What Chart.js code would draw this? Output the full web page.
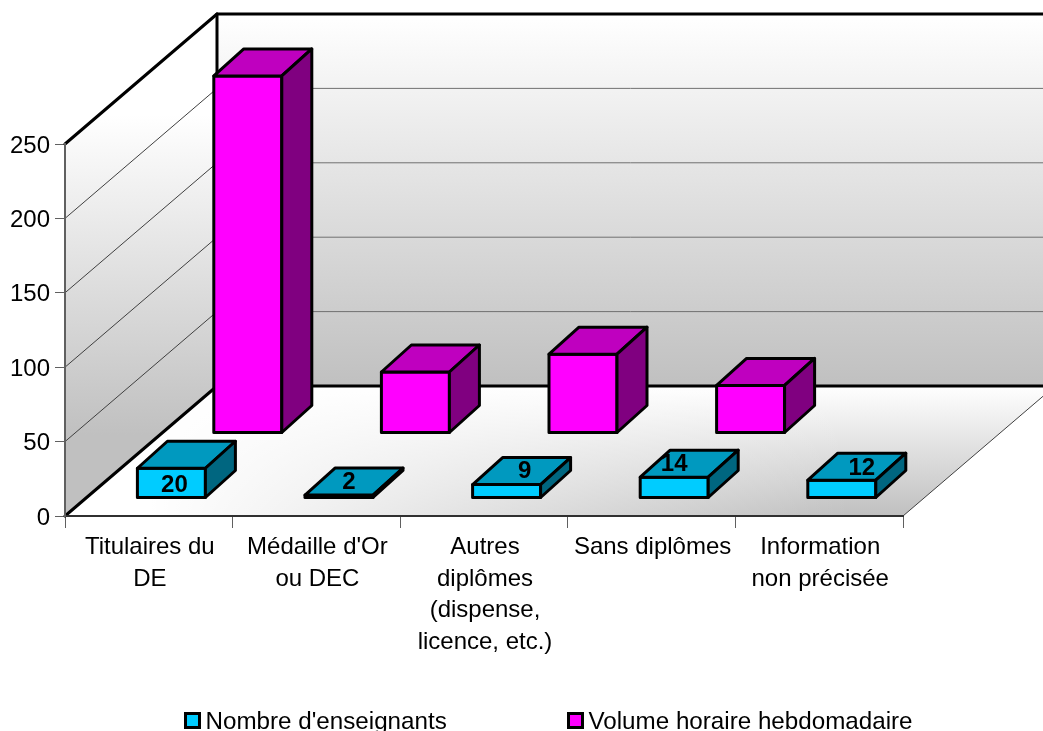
<!DOCTYPE html>
<html>
<head>
<meta charset="utf-8">
<style>
  html, body { margin: 0; padding: 0; background: #fff; overflow: hidden; }
  canvas { display: block; }
</style>
<script src="https://cdn.jsdelivr.net/npm/chart.js@4/dist/chart.umd.min.js"></script>
</head>
<body>
<canvas id="diagramme" width="1043" height="731"></canvas>
<script>
const categories = [
  ["Titulaires du", "DE"],
  ["Médaille d'Or", "ou DEC"],
  ["Autres", "diplômes", "(dispense,", "licence, etc.)"],
  "Sans diplômes",
  ["Information", "non précisée"]
];
const enseignants = [20, 2, 9, 14, 12];
const volumeHoraire = [240, 41, 53, 32, null];
const seriesNames = ["Nombre d'enseignants", "Volume horaire hebdomadaire"];

const FONT = "Liberation Sans, Arial, sans-serif";

// profondeur du plancher, et de chaque rangee de barres
const depth = { x: 152, y: -130 };
const rows = [
  { dx: 22.6, dy: -18, top: "#0099bf", side: "#006680" },
  { dx: 99, dy: -83, top: "#bf00bf", side: "#800080" }
];
const barDepth = { x: 30, y: -27 };
// decalage des etiquettes de valeur par rapport au centre de la barre
const labelNudge = [[3, 17], [10, -13], [18, -13], [0, -13], [20, -12]];

function poly(ctx, pts, fill, stroke, width) {
  ctx.beginPath();
  pts.forEach((p, i) => i ? ctx.lineTo(p[0], p[1]) : ctx.moveTo(p[0], p[1]));
  ctx.closePath();
  if (fill) { ctx.fillStyle = fill; ctx.fill(); }
  if (stroke) { ctx.strokeStyle = stroke; ctx.lineWidth = width; ctx.stroke(); }
}

function line(ctx, x1, y1, x2, y2, color, width) {
  ctx.beginPath();
  ctx.moveTo(x1, y1);
  ctx.lineTo(x2, y2);
  ctx.strokeStyle = color;
  ctx.lineWidth = width;
  ctx.stroke();
}

// murs, plancher et grille
const walls = {
  id: "walls",
  beforeDatasetsDraw(chart) {
    const ctx = chart.ctx, a = chart.chartArea, y = chart.scales.y;
    const dx = depth.x, dy = depth.y;
    ctx.save();

    const wallGrad = ctx.createLinearGradient(0, a.top + dy, 0, a.bottom + dy);
    wallGrad.addColorStop(0, "#ffffff");
    wallGrad.addColorStop(1, "#c0c0c0");
    const sideGrad = ctx.createLinearGradient(0, 115, 0, 435);
    sideGrad.addColorStop(0, "#ffffff");
    sideGrad.addColorStop(1, "#c0c0c0");
    const floorGrad = ctx.createLinearGradient(0, a.bottom + dy, 0, a.bottom);
    floorGrad.addColorStop(0, "#ffffff");
    floorGrad.addColorStop(1, "#c0c0c0");
    // le plancher reste clair a gauche
    const floorFade = ctx.createLinearGradient(150, 0, 850, 0);
    floorFade.addColorStop(0, "rgba(255,255,255,1)");
    floorFade.addColorStop(1, "rgba(255,255,255,0)");

    const floor = [[a.left, a.bottom], [a.right, a.bottom], [a.right + dx, a.bottom + dy], [a.left + dx, a.bottom + dy]];
    poly(ctx, [[a.left + dx, a.top + dy], [a.right + dx, a.top + dy], [a.right + dx, a.bottom + dy], [a.left + dx, a.bottom + dy]], wallGrad);
    poly(ctx, [[a.left, a.top], [a.left + dx, a.top + dy], [a.left + dx, a.bottom + dy], [a.left, a.bottom]], sideGrad);
    poly(ctx, floor, floorGrad);
    poly(ctx, floor, floorFade);

    y.ticks.forEach(t => {
      if (t.value === 0 || t.value === y.max) return;
      const py = y.getPixelForValue(t.value);
      line(ctx, a.left, py, a.left + dx, py + dy, "#404040", 1);
      line(ctx, a.left + dx, py + dy, a.right + dx, py + dy, "#707070", 1);
    });

    // aretes
    line(ctx, a.right, a.bottom, a.right + dx, a.bottom + dy, "#404040", 1);
    ctx.lineCap = "round";
    line(ctx, a.left, a.top, a.left + dx, a.top + dy, "#000", 3);
    line(ctx, a.left + dx, a.top + dy, a.right + dx, a.top + dy, "#000", 3);
    line(ctx, a.left + dx, a.top + dy, a.left + dx, a.bottom + dy, "#000", 3);
    line(ctx, a.left + dx, a.bottom + dy, a.right + dx, a.bottom + dy, "#000", 3);
    line(ctx, a.left, a.bottom, a.left + dx, a.bottom + dy, "#000", 3);
    ctx.restore();
  }
};

// decale la face avant de chaque barre puis ajoute le dessus et le cote
const bars3d = {
  id: "bars3d",
  beforeDatasetDraw(chart, args) {
    const r = rows[args.index];
    chart.ctx.save();
    chart.ctx.translate(r.dx, r.dy);
  },
  afterDatasetDraw(chart, args) {
    const ctx = chart.ctx, r = rows[args.index];
    const values = chart.data.datasets[args.index].data;
    ctx.lineJoin = "round";
    args.meta.data.forEach((bar, i) => {
      if (values[i] === null) return;
      const L = bar.x - bar.width / 2, R = bar.x + bar.width / 2;
      const T = bar.y, B = bar.base;
      const bx = barDepth.x, by = barDepth.y;
      poly(ctx, [[L, T], [R, T], [R, B], [L, B]], null, "#000", 3);
      poly(ctx, [[L, T], [R, T], [R + bx, T + by], [L + bx, T + by]], r.top, "#000", 3);
      poly(ctx, [[R, T], [R + bx, T + by], [R + bx, B + by], [R, B]], r.side, "#000", 3);
    });
    ctx.restore();
  }
};

// etiquettes de valeur et legende
const overlay = {
  id: "overlay",
  afterDatasetsDraw(chart) {
    const ctx = chart.ctx, meta = chart.getDatasetMeta(0);
    ctx.save();
    ctx.fillStyle = "#000";
    ctx.textAlign = "center";
    ctx.textBaseline = "middle";
    ctx.font = "bold 24px " + FONT;
    meta.data.forEach((bar, i) => {
      const base = bar.y + rows[0].dy;
      ctx.fillText(enseignants[i], bar.x + rows[0].dx + labelNudge[i][0], base + labelNudge[i][1]);
    });

    ctx.textAlign = "left";
    ctx.font = "24.2px " + FONT;
    [185.5, 568.5].forEach((x, i) => {
      const ds = chart.data.datasets[i];
      ctx.fillStyle = ds.backgroundColor;
      ctx.strokeStyle = "#000";
      ctx.lineWidth = 3;
      ctx.fillRect(x, 713.5, 14, 14);
      ctx.strokeRect(x, 713.5, 14, 14);
      ctx.fillStyle = "#000";
      ctx.fillText(ds.label, x + 20, 722.5);
    });
    ctx.restore();
  }
};

new Chart("diagramme", {
  type: "bar",
  data: {
    labels: categories,
    datasets: [
      { label: seriesNames[0], data: enseignants, backgroundColor: "#00ccff" },
      { label: seriesNames[1], data: volumeHoraire, backgroundColor: "#ff00ff" }
    ]
  },
  options: {
    responsive: false,
    animation: false,
    events: [],
    layout: { padding: { top: 144, right: 140, left: 0, bottom: 0 } },
    datasets: {
      bar: {
        grouped: false,
        barThickness: 68,
        borderWidth: 0,
        clip: false
      }
    },
    scales: {
      x: {
        afterFit(scale) { scale.height = 215; },
        border: { color: "#303030", width: 2, z: 1 },
        grid: { drawOnChartArea: false, drawTicks: true, tickLength: 12, color: "#606060" },
        ticks: {
          color: "#000",
          font: { family: FONT, size: 24, lineHeight: 1.31 },
          maxRotation: 0,
          autoSkip: false,
          padding: 4,
          labelOffset: 1
        }
      },
      y: {
        min: 0,
        max: 250,
        afterFit(scale) { scale.width = 65; },
        border: { color: "#606060", width: 2, z: 1 },
        grid: { drawOnChartArea: false, drawTicks: true, tickLength: 10, color: "#606060" },
        ticks: {
          stepSize: 50,
          color: "#000",
          font: { family: FONT, size: 24 },
          padding: 5,
          labelOffset: 2
        }
      }
    },
    plugins: {
      legend: { display: false },
      title: { display: false },
      tooltip: { enabled: false }
    }
  },
  plugins: [walls, bars3d, overlay]
});
</script>
</body>
</html>
